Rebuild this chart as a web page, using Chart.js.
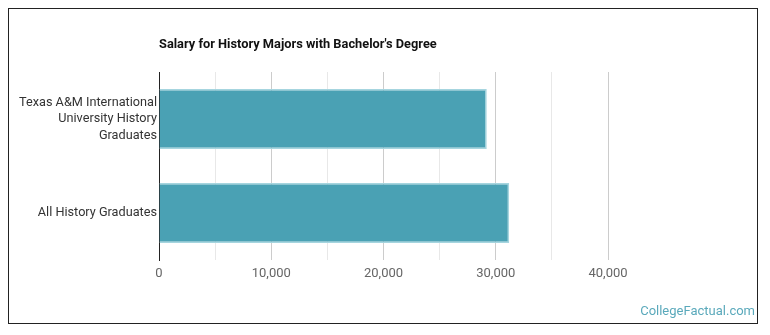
<!DOCTYPE html>
<html>
<head>
<meta charset="utf-8">
<script src="https://cdn.jsdelivr.net/npm/chart.js@4.4.0/dist/chart.umd.min.js"></script>
<style>
  html, body { margin: 0; padding: 0; background: #fff; }
  #wrap { position: relative; width: 770px; height: 335px; }
  #frame { position: absolute; left: 8px; top: 8px; width: 748px; height: 314px; border: 1.5px solid #222; }
  canvas { position: absolute; left: 0; top: 0; }
</style>
</head>
<body>
<div id="wrap">
  <div id="frame"></div>
  <canvas id="salaryChart" width="770" height="335"></canvas>
</div>
<script>
const chartTitle = "Salary for History Majors with Bachelor's Degree";
const categories = [
  ['Texas A&M International', 'University History', 'Graduates'],
  'All History Graduates'
];
const salaries = [29200, 31200];
const tickLabels = ['0', '10,000', '20,000', '30,000', '40,000'];

// title + watermark drawn onto the canvas
const textPlugin = {
  id: 'extraText',
  afterDraw(chart) {
    const ctx = chart.ctx;
    ctx.save();
    ctx.textBaseline = 'middle';
    ctx.fillStyle = '#111';
    ctx.font = 'bold 12.8px Roboto';
    ctx.textAlign = 'left';
    ctx.fillText(chartTitle, chart.chartArea.left, 45);
    ctx.fillStyle = '#5aa9bb';
    ctx.font = '13px Roboto';
    ctx.textAlign = 'right';
    ctx.fillText('CollegeFactual.com', 755, 312);
    ctx.restore();
  }
};

const ctx = document.getElementById('salaryChart').getContext('2d');
new Chart(ctx, {
  type: 'bar',
  data: {
    labels: categories,
    datasets: [{
      data: salaries,
      backgroundColor: '#4aa1b4',
      borderColor: '#a6d5df',
      borderWidth: 1.5,
      borderSkipped: 'start',
      barPercentage: 0.8,
      categoryPercentage: 0.8
    }]
  },
  options: {
    indexAxis: 'y',
    responsive: false,
    animation: false,
    layout: { padding: { top: 72, right: 162, bottom: 35, left: 0 } },
    plugins: {
      legend: { display: false },
      tooltip: { enabled: false }
    },
    scales: {
      x: {
        min: 0,
        max: 40000,
        afterFit: s => { s.height = 40; },
        ticks: {
          stepSize: 5000,
          color: '#666',
          font: { family: 'Roboto', size: 13 },
          padding: 6,
          maxRotation: 0,
          autoSkip: false,
          callback: v => (v % 10000 === 0 ? tickLabels[v / 10000] : '')
        },
        border: { display: false },
        grid: {
          drawTicks: false,
          color: c => (c.tick && c.tick.value % 10000 === 0 ? '#cccccc' : '#e8e8e8'),
          lineWidth: 1
        }
      },
      y: {
        afterFit: s => { s.width = 159; },
        ticks: {
          color: '#333',
          font: { family: 'Roboto', size: 12.7, lineHeight: 1.3 },
          padding: 2
        },
        border: { display: true, color: '#222', width: 1 },
        grid: { display: false, drawTicks: false }
      }
    }
  },
  plugins: [textPlugin]
});
</script>
</body>
</html>
